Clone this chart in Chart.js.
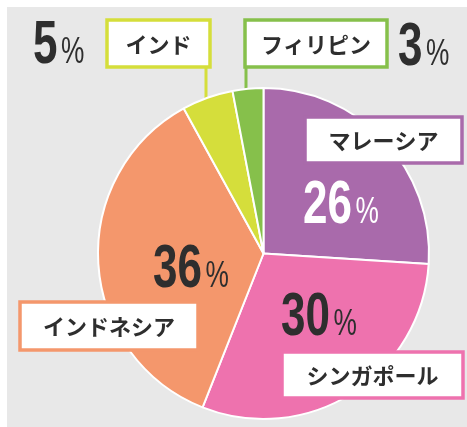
<!DOCTYPE html>
<html>
<head>
<meta charset="utf-8">
<script src="https://cdn.jsdelivr.net/npm/chart.js@4"></script>
<style>
  html, body { margin: 0; padding: 0; background: #fff; }
  #wrap { width: 467px; height: 427px; position: relative; }
</style>
</head>
<body>
<div id="wrap"><canvas id="share_chart"></canvas></div>
<script>
const countries = ["マレーシア", "シンガポール", "インドネシア", "インド", "フィリピン"];
const shares = [26, 30, 36, 5, 3];
const slice_colors = ["#a96aab", "#ee72ae", "#f4976c", "#d5de3b", "#86c04b"];

const bg_gray = "#e8e8e8";
const ink = "#2e2e2e";

// where each label box and percentage sits (same order as countries)
const label_boxes = [
    { x: 305, y: 117, w: 157, h: 46 },
    { x: 282, y: 352, w: 181, h: 46 },
    { x: 20,  y: 302, w: 178, h: 48 },
    { x: 107, y: 20,  w: 103, h: 47 },
    { x: 245, y: 20,  w: 142, h: 47 }
];
const pct_spots = [
    { x: 303, y: 223, color: "#ffffff" },
    { x: 281, y: 335, color: ink },
    { x: 153, y: 287, color: ink },
    { x: 33,  y: 63,  color: ink },
    { x: 398, y: 65,  color: ink }
];
const leaders = [null, null, null, { x: 206, y2: 120 }, { x: 246, y2: 110 }];

function drawPct(ctx, value, spot) {
    ctx.save();
    ctx.fillStyle = spot.color;
    ctx.textBaseline = "alphabetic";
    ctx.textAlign = "left";
    ctx.translate(spot.x, spot.y);
    ctx.scale(0.71, 1);
    ctx.font = "bold 62px 'Liberation Sans', sans-serif";
    const txt = String(value);
    ctx.fillText(txt, 0, 0);
    const w = ctx.measureText(txt).width;
    ctx.font = "37px 'Liberation Sans', sans-serif";
    ctx.fillText("%", w + 5, 0);
    ctx.restore();
}

const decor = {
    id: "decor",
    beforeDraw(chart) {
        const ctx = chart.ctx;
        ctx.save();
        ctx.fillStyle = "#ffffff";
        ctx.fillRect(0, 0, chart.width, chart.height);
        ctx.fillStyle = bg_gray;
        ctx.fillRect(7, 7, chart.width - 7, chart.height - 7);
        ctx.restore();
    },
    beforeDatasetsDraw(chart) {
        const ctx = chart.ctx;
        ctx.save();
        leaders.forEach((ld, i) => {
            if (!ld) return;
            const b = label_boxes[i];
            ctx.strokeStyle = slice_colors[i];
            ctx.lineWidth = 3;
            ctx.beginPath();
            ctx.moveTo(ld.x, b.y + b.h);
            ctx.lineTo(ld.x, ld.y2);
            ctx.stroke();
        });
        ctx.restore();
    },
    afterDatasetsDraw(chart) {
        const ctx = chart.ctx;
        ctx.save();
        countries.forEach((name, i) => {
            const b = label_boxes[i];
            ctx.fillStyle = "#ffffff";
            ctx.fillRect(b.x, b.y, b.w, b.h);
            ctx.strokeStyle = slice_colors[i];
            ctx.lineWidth = 3.5;
            ctx.strokeRect(b.x, b.y, b.w, b.h);
            ctx.fillStyle = ink;
            ctx.font = "bold 22px 'Noto Sans CJK JP', sans-serif";
            ctx.textAlign = "center";
            ctx.textBaseline = "middle";
            ctx.fillText(name, b.x + b.w / 2, b.y + b.h / 2 + 1);
            drawPct(ctx, shares[i], pct_spots[i]);
        });
        ctx.restore();
    }
};

const ctx = document.getElementById("share_chart");
const share_chart = new Chart(ctx, {
    type: "pie",
    data: {
        labels: countries,
        datasets: [{
            data: shares,
            backgroundColor: slice_colors,
            borderColor: "#ffffff",
            borderWidth: 2,
            hoverOffset: 0
        }]
    },
    options: {
        responsive: true,
        maintainAspectRatio: false,
        animation: false,
        layout: { padding: { left: 97, right: 37, top: 87, bottom: 7 } },
        plugins: {
            legend: { display: false },
            tooltip: { enabled: false }
        }
    },
    plugins: [decor]
});
</script>
</body>
</html>
